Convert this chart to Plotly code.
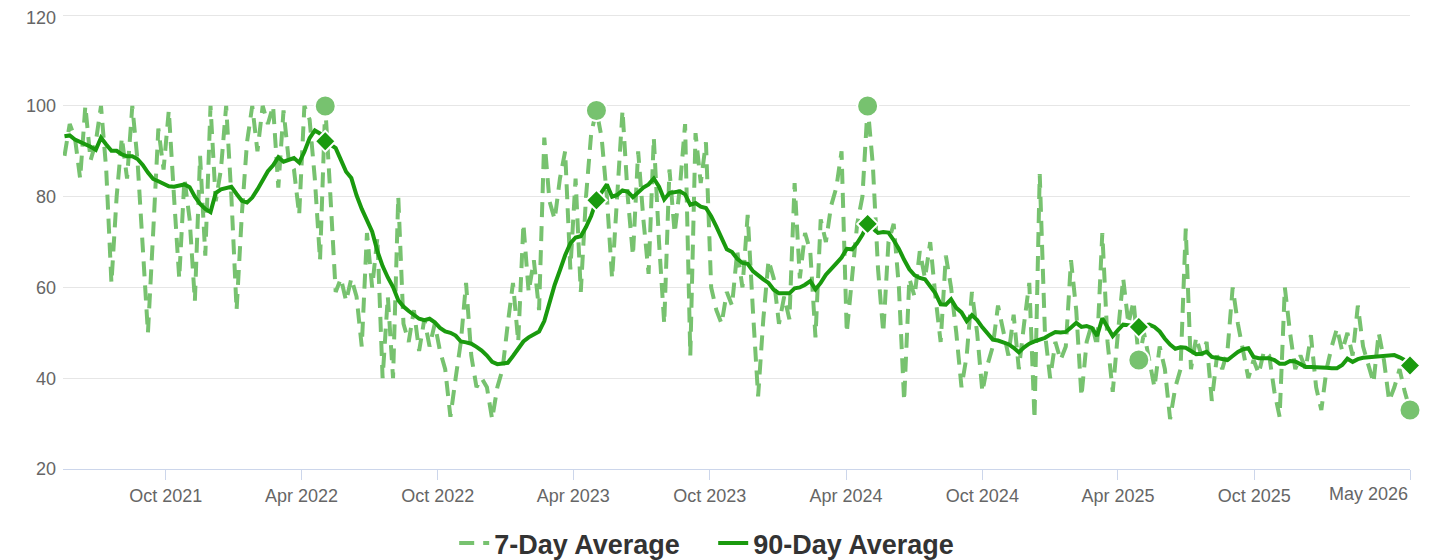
import pandas as pd
import plotly.graph_objects as go

END_DATE = "2026-04-28"

# 7-day average, one reading per week (oldest -> newest)
avg7 = [
    89, 96, 93, 84, 100, 88, 92, 100, 86, 61,        # 0-9
    80, 93, 84, 100, 88, 70, 50, 72, 95, 86,         # 10-19
    99, 80, 62, 84, 75, 57, 89, 67, 100, 79,         # 20-29
    86, 100, 80, 55, 76, 92, 100, 90, 100, 96,       # 30-39
    100, 82, 99, 88, 86, 76, 100, 97, 84, 66,        # 40-49
    100, 80, 59, 62, 57, 62, 58, 47, 72, 60,         # 50-59
    71, 40, 58, 40, 80, 52, 48, 55, 46, 53,          # 60-69
    47, 52, 46, 42, 31.5, 40, 48, 61, 45, 38,        # 70-79
    40, 38, 31, 38, 42, 52, 61, 48, 74, 59,          # 80-89
    66, 55, 93, 79, 75, 84, 90, 64, 84, 59,          # 90-99
    80, 94, 99, 93, 80, 62, 80, 99, 80, 67,          # 100-109
    90, 75, 63, 93, 70, 52, 86, 72, 82, 96,          # 110-119
    45, 94, 83, 92, 60, 55, 52, 59, 56, 68,          # 120-129
    60, 76, 55, 36, 53, 66, 62, 52, 58, 53,          # 130-139
    83, 62, 72, 68, 49, 75, 70, 78, 82, 90,          # 140-149
    50, 62, 74, 80, 100, 87, 64, 50, 70, 74,         # 150-159
    60, 35, 62, 58, 68, 62, 70, 58, 48, 67,          # 160-169
    60, 50, 38, 45, 59, 50, 37, 43, 47, 56,          # 170-179
    50, 45, 54, 42, 52, 61, 31, 85, 50, 40,          # 180-189
    48, 44, 47, 66, 55, 36, 48, 52, 47, 72,          # 190-199
    48, 37, 50, 62, 52, 57, 44, 50, 44, 38,          # 200-209
    47, 42, 31, 38, 42, 73, 42, 49, 45, 48,          # 210-219
    35, 45, 42, 46, 60, 52, 46, 40, 44, 41,          # 220-229
    46, 45, 37, 31.5, 60, 50, 42, 45, 42, 49.5,      # 230-239
    38, 33, 42, 47, 51, 46, 50, 45, 56, 47,          # 240-249
    43, 39, 50, 44, 35, 38, 42, 37, 33,              # 250-258
]

# 90-day average, one reading per week (oldest -> newest)
avg90 = [
    93.3, 93.5, 92.6, 92.1, 91.7, 91.0, 90.3, 93.0, 91.5, 90.1,   # 0-9
    90.1, 89.3, 88.9, 88.9, 88.3, 87.0, 85.3, 83.9, 83.4, 82.8,   # 10-19
    82.3, 82.2, 82.4, 82.7, 82.1, 80.0, 78.4, 77.3, 76.6, 80.8,   # 20-29
    81.6, 81.8, 82.2, 80.6, 79.1, 78.7, 79.8, 81.6, 83.6, 85.6,   # 30-39
    86.9, 88.7, 87.7, 88.0, 88.5, 87.5, 89.9, 92.9, 94.6, 93.9,   # 40-49
    92.2, 91.5, 90.7, 88.1, 85.5, 84.1, 80.3, 77.3, 74.7, 72.3,   # 50-59
    68.0, 64.7, 62.2, 60.1, 57.2, 55.8, 54.8, 53.9, 53.1, 52.8,   # 60-69
    53.1, 52.3, 51.1, 50.3, 50.0, 49.4, 48.1, 47.9, 47.6, 46.9,   # 70-79
    46.1, 45.0, 43.6, 43.1, 43.2, 43.4, 44.9, 46.6, 48.1, 49.0,   # 80-89
    49.7, 50.3, 52.6, 56.8, 60.6, 63.8, 67.1, 69.7, 71.0, 71.3,   # 90-99
    73.3, 75.8, 79.2, 81.0, 82.7, 80.0, 80.4, 81.4, 81.1, 79.9,   # 100-109
    81.0, 82.0, 82.7, 84.0, 82.2, 79.4, 80.8, 81.0, 81.2, 80.5,   # 110-119
    78.2, 78.6, 77.8, 77.5, 75.7, 73.4, 71.0, 68.4, 67.8, 66.3,   # 120-129
    65.4, 65.2, 63.6, 62.6, 61.8, 61.0, 59.5, 58.7, 58.7, 58.7,   # 130-139
    59.8, 60.0, 60.6, 61.4, 59.6, 61.0, 62.8, 64.2, 65.3, 66.6,   # 140-149
    68.5, 68.4, 69.8, 71.6, 74.0, 73.0, 72.0, 72.2, 72.1, 70.4,   # 150-159
    68.5, 66.1, 64.0, 62.7, 62.1, 61.8, 60.4, 58.7, 56.3, 56.2,   # 160-169
    57.4, 55.5, 54.5, 52.6, 53.9, 52.8, 51.2, 49.8, 48.5, 48.3,   # 170-179
    48.0, 47.5, 46.7, 45.7, 46.8, 47.6, 48.1, 48.5, 48.9, 49.6,   # 180-189
    50.2, 50.1, 50.2, 51.2, 52.2, 51.3, 51.5, 51.1, 49.3, 53.2,   # 190-199
    51.2, 49.3, 50.6, 51.8, 51.7, 51.5, 51.3, 51.6, 51.8, 51.3,   # 200-209
    50.3, 48.7, 47.4, 46.5, 46.8, 46.7, 46.1, 45.3, 45.4, 45.8,   # 210-219
    44.7, 44.4, 44.2, 44.0, 44.9, 45.8, 46.4, 46.6, 44.7, 44.4,   # 220-229
    44.4, 44.4, 44.0, 43.2, 43.2, 43.8, 43.7, 43.1, 42.5, 42.5,   # 230-239
    42.5, 42.4, 42.3, 42.2, 42.2, 42.9, 44.3, 43.6, 44.2, 44.5,   # 240-249
    44.6, 44.7, 44.9, 45.1, 45.1, 45.1, 44.6, 44.0, 42.8,         # 250-258
]

# yearly comparison points: weeks back from the latest reading
marker_weeks_back = [208, 156, 104, 52, 0]

tick_dates = ["2021-10-01", "2022-04-01", "2022-10-01", "2023-04-01", "2023-10-01",
              "2024-04-01", "2024-10-01", "2025-04-01", "2025-10-01", END_DATE]
tick_labels = ["Oct 2021", "Apr 2022", "Oct 2022", "Apr 2023", "Oct 2023",
               "Apr 2024", "Oct 2024", "Apr 2025", "Oct 2025", "May 2026"]
y_ticks = [20, 40, 60, 80, 100, 120]

LIGHT = "#77c26f"
DARK = "#1a9a0e"

dates7 = pd.date_range(end=END_DATE, periods=len(avg7), freq="7D")
dates90 = pd.date_range(end=END_DATE, periods=len(avg90), freq="7D")

m7_x = [dates7[len(avg7) - 1 - w] for w in marker_weeks_back]
m7_y = [avg7[len(avg7) - 1 - w] for w in marker_weeks_back]
m90_x = [dates90[len(avg90) - 1 - w] for w in marker_weeks_back]
m90_y = [avg90[len(avg90) - 1 - w] for w in marker_weeks_back]

fig = go.Figure()
fig.add_trace(go.Scatter(
    x=dates7, y=avg7, mode="lines", name="7-Day Average",
    line=dict(color=LIGHT, width=4, dash="15px,9px"),
    hoverinfo="skip", cliponaxis=False,
))
fig.add_trace(go.Scatter(
    x=dates90, y=avg90, mode="lines", name="90-Day Average",
    line=dict(color=DARK, width=4),
    hoverinfo="skip", cliponaxis=False,
))
fig.add_trace(go.Scatter(
    x=m7_x, y=m7_y, mode="markers", showlegend=False,
    marker=dict(symbol="circle", size=21, color=LIGHT,
                line=dict(color="white", width=2)),
    cliponaxis=False,
))
fig.add_trace(go.Scatter(
    x=m90_x, y=m90_y, mode="markers", showlegend=False,
    marker=dict(symbol="diamond", size=16, color=DARK,
                line=dict(color="white", width=2)),
    cliponaxis=False,
))

# the last x tick label is right-aligned to its tick so it stays inside the chart
fig.add_annotation(
    x=tick_dates[-1], xref="x", xanchor="right",
    y=0, yref="paper", yanchor="top", yshift=-13,
    text=tick_labels[-1], showarrow=False,
    font=dict(size=18, color="#666666"),
)
# top y label drawn as annotation, nudged so it is not clipped at the page edge
fig.add_annotation(
    x=0, xref="paper", xanchor="right", xshift=-5,
    y=y_ticks[-1], yref="y", yanchor="middle", yshift=-3,
    text=str(y_ticks[-1]), showarrow=False,
    font=dict(size=18, color="#666666"),
)

# page body has an 8px default margin; figure sized so the chart lands at the same spot
fig.update_layout(
    width=1421, height=560, autosize=False,
    margin=dict(l=55, r=19, t=6, b=99),
    plot_bgcolor="white", paper_bgcolor="white",
    font=dict(family="Liberation Sans, Arial, sans-serif", color="#666666"),
    showlegend=True,
    legend=dict(
        orientation="h", xref="container", yref="container",
        x=0.314, xanchor="left", y=0.0, yanchor="bottom",
        font=dict(size=27, color="#333333", weight="bold"),
        entrywidth=214, entrywidthmode="pixels",
        itemwidth=30, tracegroupgap=0,
    ),
    xaxis=dict(
        type="date",
        range=["2021-05-16", END_DATE],
        tickvals=pd.to_datetime(tick_dates),
        ticktext=tick_labels[:-1] + [""],
        tickfont=dict(size=18, color="#666666"),
        ticks="outside", ticklen=10, tickcolor="#ccd6eb", tickwidth=1,
        showline=True, linecolor="#ccd6eb", linewidth=1,
        showgrid=False, zeroline=False, automargin=False,
    ),
    yaxis=dict(
        range=[20, 120.25],
        tickvals=y_ticks,
        ticktext=[str(v) for v in y_ticks[:-1]] + [""],
        tickfont=dict(size=18, color="#666666"),
        gridcolor="#e6e6e6", gridwidth=1,
        showline=False, zeroline=False, ticks="",
        ticklabelstandoff=6, automargin=False,
    ),
)

fig.write_html("out.html")
